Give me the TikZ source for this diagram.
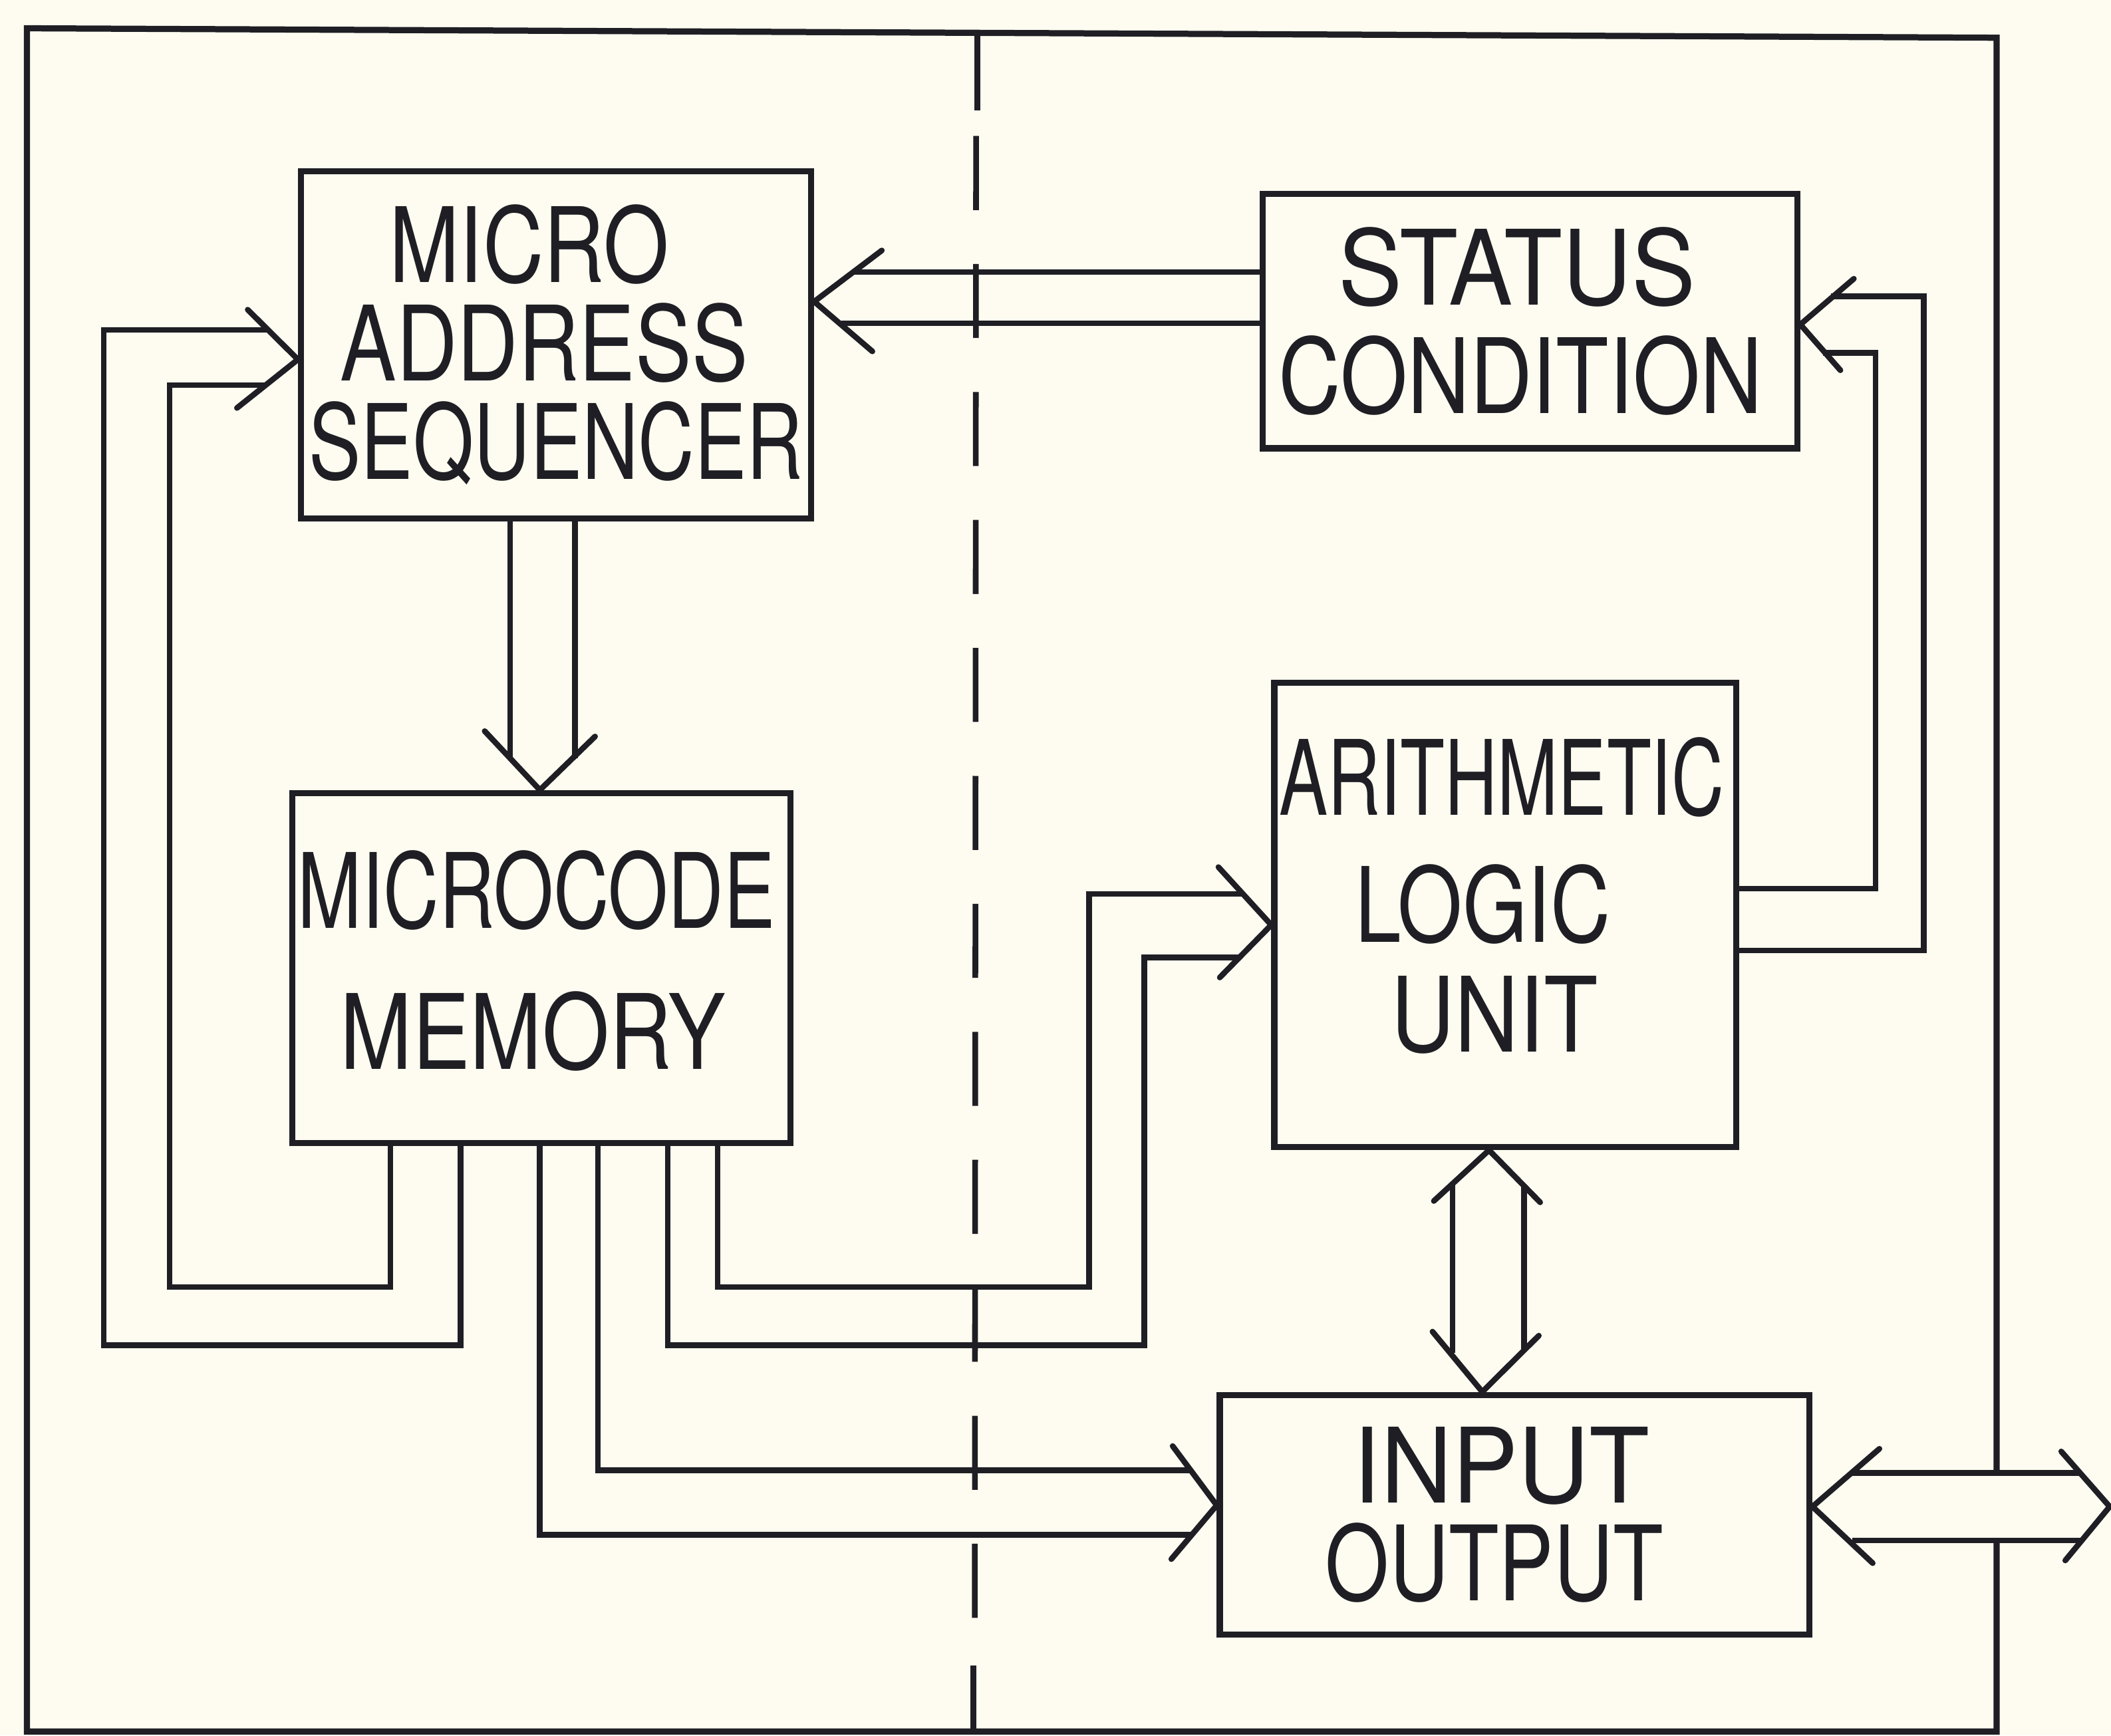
\documentclass[tikz,border=0pt]{standalone}
\usepackage{fontspec}
\setmainfont{TeX Gyre Heros}
\usepackage{graphicx}
\definecolor{paper}{RGB}{254,252,240}
\definecolor{ink}{RGB}{30,30,36}
\newcommand{\sx}[2]{\scalebox{#1}[1]{#2}}
\newcommand{\sxl}[3]{\mbox{\scalebox{#1}[1]{#3}\kern#2pt}}
\begin{document}
\begin{tikzpicture}[x=0.02cm,y=-0.02cm,
  box/.style={draw=ink, line width=2.6pt, inner sep=0pt, align=center, text=ink,
    font=\fontsize{44}{41.5}\selectfont},
  conn/.style={draw=ink, line width=2.4pt},
  head/.style={draw=ink, line width=2.4pt, line cap=round, line join=round},
  frame/.style={draw=ink, line width=2.6pt, line join=miter}]
\useasboundingbox (0,0) rectangle (1568,1289);
\fill[paper] (0,0) rectangle (1568,1289);

% outer frame and divider
\draw[frame] (1483,1094) -- (1483,28) -- (20,21) -- (20,1286) -- (1483,1286) -- (1483,1144);
\draw[conn] (726,24) -- (726,82);
\draw[conn, dash pattern=on 31.3pt off 22.8pt] (725,101) -- (724,1236);
\draw[conn] (723,1237) -- (723,1286);

% boxes
\node[box, minimum width=7.58cm, minimum height=5.16cm] (mas) at (413,256)
  {\sxl{0.81}{22.8}{MICRO}\\\sxl{0.81}{10}{ADDRESS}\\\sx{0.75}{SEQUENCER}};
\node[box, minimum width=7.94cm, minimum height=3.78cm] (stat) at (1136.5,238.5)
  {\sxl{0.92}{11}{STATUS}\\[4.5pt]\sxl{0.83}{8}{CONDITION}};
\node[box, minimum width=7.4cm, minimum height=5.2cm] (mm) at (402,719)
  {\sxl{0.74}{4}{MICROCODE}\\[18pt]\sxl{0.83}{7}{MEMORY}\rule[-7pt]{0pt}{1pt}};
\node[box, minimum width=6.86cm, minimum height=6.9cm] (alu) at (1118,679.5)
  {\sxl{0.70}{3}{ARITHMETIC}\\[12pt]\sxl{0.80}{19}{LOGIC}\\[5pt]\sxl{0.85}{9}{UNIT}\rule[-17pt]{0pt}{1pt}};
\node[box, minimum width=8.76cm, minimum height=3.56cm] (io) at (1125,1125)
  {\sxl{0.95}{11}{INPUT}\\\sxl{0.79}{17}{OUTPUT}};

% status -> micro address sequencer
\draw[conn] (stat.west |- 0,202) -- (633,202);
\draw[conn] (stat.west |- 0,240) -- (625,240);
\draw[head] (655,186) -- (mas.east |- 0,224) -- (648,261);

% sequencer -> microcode memory
\draw[conn] (mas.south -| 379,0) -- (379,563);
\draw[conn] (mas.south -| 427,0) -- (427,563);
\draw[head] (360,543) -- (mm.north -| 401,0) -- (442,547);

% microcode memory -> sequencer (feedback loops)
\draw[conn] (mm.south -| 342,0) -- (342,999) -- (77,999) -- (77,245) -- (199,245);
\draw[conn] (mm.south -| 290,0) -- (290,956) -- (126,956) -- (126,286) -- (198,286);
\draw[head] (184,230) -- (mas.west |- 0,267) -- (176,303);

% microcode memory -> input/output
\draw[conn] (mm.south -| 401,0) -- (401,1140) -- (886,1140);
\draw[conn] (mm.south -| 444,0) -- (444,1092) -- (885,1092);
\draw[head] (871,1074) -- (io.west |- 0,1118) -- (870,1158);

% microcode memory -> ALU
\draw[conn] (mm.south -| 533,0) -- (533,956) -- (809,956) -- (809,664) -- (923,664);
\draw[conn] (mm.south -| 496,0) -- (496,999) -- (850,999) -- (850,711) -- (921,711);
\draw[head] (905,644) -- (alu.west |- 0,687) -- (906,726);

% ALU -> status
\draw[conn] (alu.east |- 0,660) -- (1393,660) -- (1393,262) -- (1354,262);
\draw[conn] (alu.east |- 0,706) -- (1429,706) -- (1429,220) -- (1360,220);
\draw[head] (1377,207) -- (stat.east |- 0,241) -- (1367,275);

% ALU <-> input/output
\draw[conn] (1079,878) -- (1079,1005);
\draw[conn] (1132,880) -- (1132,1002);
\draw[head] (1065,892) -- (alu.south -| 1106,0) -- (1144,893);
\draw[head] (1064,989) -- (io.north -| 1101,0) -- (1143,992);

% input/output <-> outside
\coordinate (ext) at (1567,1119);
\draw[conn] (1376,1094) -- (1545,1094);
\draw[conn] (1376,1144) -- (1547,1144);
\draw[head] (1396,1076) -- (io.east |- 0,1119) -- (1391,1161);
\draw[head] (1531,1078) -- (ext) -- (1534,1159);
\end{tikzpicture}
\end{document}
